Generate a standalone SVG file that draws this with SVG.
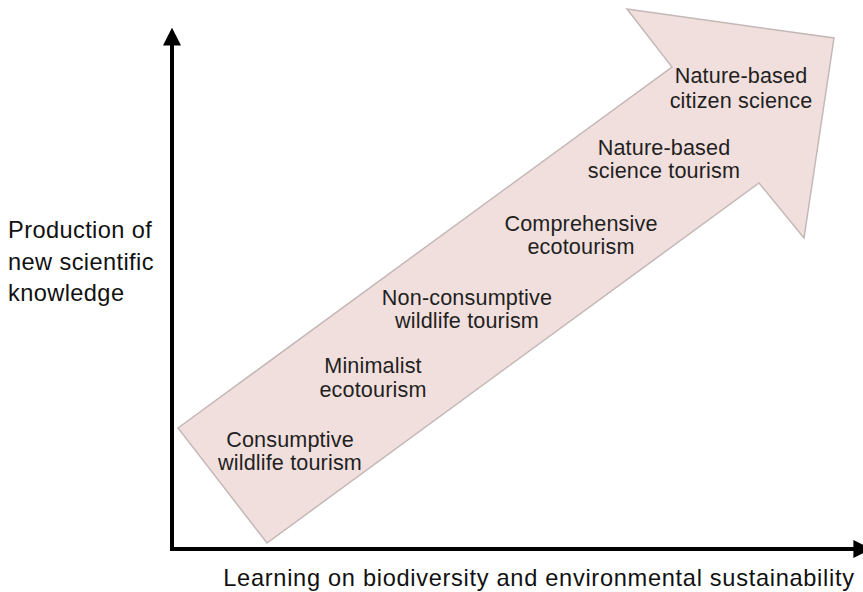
<svg xmlns="http://www.w3.org/2000/svg" width="863" height="592" viewBox="0 0 863 592">
<style>
text{font-family:"Liberation Sans",Arial,sans-serif;font-size:21.6px;letter-spacing:0.15px;fill:#231f1f}
.c{text-anchor:middle}
.ax{stroke:#000;stroke-width:4;fill:none}
.lab{font-size:23.6px;fill:#111}
</style>
<defs>
<marker id="ah" viewBox="0 0 10 10" refX="2" refY="5" markerWidth="4.5" markerHeight="4.5" orient="auto" markerUnits="strokeWidth">
<path d="M0,0 L10,5 L0,10 Z" fill="#000"/>
</marker>
</defs>
<rect width="863" height="592" fill="#fff"/>
<g id="big-arrow">
<polygon points="178,428 672,67 627,9 834,38 804,238 759,183 267,543" fill="#f1dfdd" stroke="#c4b8b7" stroke-width="1.5"/>
</g>
<g id="connectors">
<line class="ax" x1="172" y1="550" x2="172" y2="42" marker-end="url(#ah)"/>
<line class="ax" x1="170" y1="549" x2="857" y2="549" marker-end="url(#ah)"/>
</g>
<g id="y-label">
<text class="lab" x="8" y="238" style="letter-spacing:0.4px">Production of</text>
<text class="lab" x="8" y="270" style="letter-spacing:0.4px">new scientific</text>
<text class="lab" x="8" y="301" style="letter-spacing:0.4px">knowledge</text>
</g>
<g id="x-label">
<text class="c lab" x="539" y="586" style="letter-spacing:0.7px">Learning on biodiversity and environmental sustainability</text>
</g>
<g id="n1"><text class="c" x="290" y="447">Consumptive</text><text class="c" x="290" y="470">wildlife tourism</text></g>
<g id="n2"><text class="c" x="373" y="373">Minimalist</text><text class="c" x="373" y="397">ecotourism</text></g>
<g id="n3"><text class="c" x="467" y="305">Non-consumptive</text><text class="c" x="467" y="328">wildlife tourism</text></g>
<g id="n4"><text class="c" x="581" y="231">Comprehensive</text><text class="c" x="581" y="254">ecotourism</text></g>
<g id="n5"><text class="c" x="664" y="155">Nature-based</text><text class="c" x="664" y="178">science tourism</text></g>
<g id="n6"><text class="c" x="741" y="83">Nature-based</text><text class="c" x="741" y="108">citizen science</text></g>
</svg>
